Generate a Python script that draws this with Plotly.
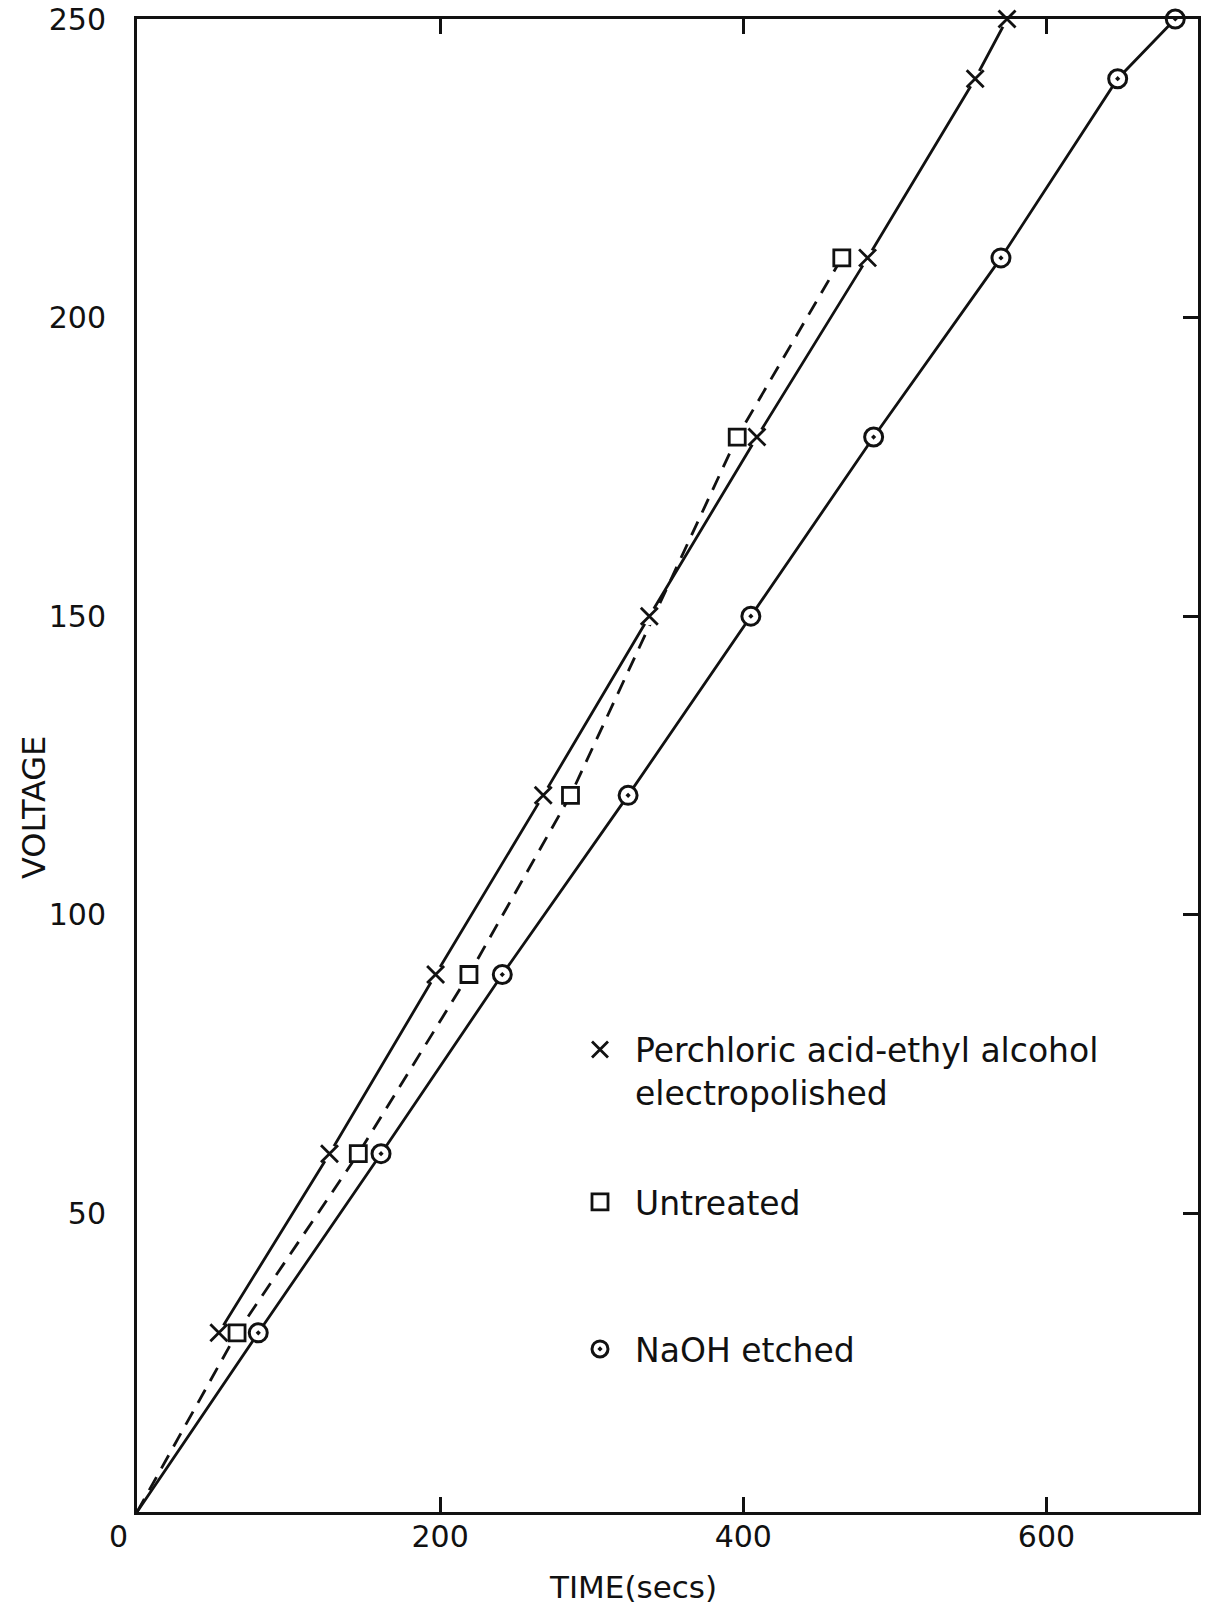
import plotly.graph_objects as go

# ---- data ----
perch_time = [54, 127, 197, 268, 338, 409, 482, 553, 574]
perch_volt = [30, 60, 90, 120, 150, 180, 210, 240, 250]

untr_time = [66, 146, 219, 286, 396, 465]
untr_volt = [30, 60, 90, 120, 180, 210]

naoh_time = [80, 161, 241, 324, 405, 486, 570, 647, 685]
naoh_volt = [30, 60, 90, 120, 150, 180, 210, 240, 250]

origin_time = [0]
origin_volt = [0]

x_ticks = [200, 400, 600]
y_ticks = [50, 100, 150, 200, 250]

labels = ["Perchloric acid-ethyl alcohol<br>electropolished", "Untreated", "NaOH etched"]

FONT = "DejaVu Sans"
FS_TICK = 30
FS_TEXT = 33
BLACK = "#111111"

fig = go.Figure()

# fitted lines
fig.add_trace(go.Scatter(x=perch_time, y=perch_volt, mode="lines",
                         line=dict(color=BLACK, width=2.8), showlegend=False, hoverinfo="skip"))
fig.add_trace(go.Scatter(x=origin_time + untr_time, y=origin_volt + untr_volt, mode="lines",
                         line=dict(color=BLACK, width=2.8, dash="15px,10px"), showlegend=False, hoverinfo="skip"))
fig.add_trace(go.Scatter(x=origin_time + naoh_time, y=origin_volt + naoh_volt, mode="lines",
                         line=dict(color=BLACK, width=2.8), showlegend=False, hoverinfo="skip"))

# white halo behind the crosses so the line breaks at each point
fig.add_trace(go.Scatter(x=perch_time, y=perch_volt, mode="markers",
                         marker=dict(symbol="circle", size=18, color="white"),
                         showlegend=False, hoverinfo="skip", cliponaxis=False))

# markers
fig.add_trace(go.Scatter(x=perch_time, y=perch_volt, mode="markers", name=labels[0],
                         marker=dict(symbol="x-thin", size=17, line=dict(color=BLACK, width=2.8)),
                         legend="legend", cliponaxis=False))
fig.add_trace(go.Scatter(x=untr_time, y=untr_volt, mode="markers", name=labels[1],
                         marker=dict(symbol="square", size=16, color="white",
                                     line=dict(color=BLACK, width=2.8)),
                         legend="legend2", cliponaxis=False))
fig.add_trace(go.Scatter(x=naoh_time, y=naoh_volt, mode="markers", name=labels[2],
                         marker=dict(symbol="circle-dot", size=18, color="white",
                                     line=dict(color=BLACK, width=3)),
                         legend="legend3", cliponaxis=False))

# right-side overlay axis for the inward ticks on the right edge
fig.add_trace(go.Scatter(x=[None], y=[None], yaxis="y2", showlegend=False, hoverinfo="skip"))

L, R, T, B = 137, 13, 19, 92
W, H = 1211, 1604
pw, ph = W - L - R, H - T - B

def px_to_paper_x(px):
    return (px - L) / pw

def px_to_paper_y(py):
    return (H - B - py) / ph

legend_common = dict(xanchor="left", yanchor="middle", bgcolor="rgba(0,0,0,0)",
                     font=dict(family=FONT, size=FS_TEXT, color=BLACK), valign="top",
                     itemwidth=60)

fig.update_layout(
    width=W, height=H,
    margin=dict(l=L, r=R, t=T, b=B, autoexpand=False),
    paper_bgcolor="white", plot_bgcolor="white",
    font=dict(family=FONT, size=FS_TEXT, color=BLACK),
    xaxis=dict(range=[0, 700], tickvals=x_ticks, ticktext=[str(v) for v in x_ticks],
               ticks="inside", ticklen=15, tickwidth=2.5, tickcolor=BLACK,
               showline=True, linewidth=3, linecolor=BLACK, mirror="ticks",
               showgrid=False, zeroline=False, ticklabelstandoff=-4, automargin=False,
               tickfont=dict(family=FONT, size=FS_TICK, color=BLACK)),
    yaxis=dict(range=[0, 250], tickvals=y_ticks, ticktext=[str(v) for v in y_ticks],
               ticks="", showline=True, linewidth=3, linecolor=BLACK, mirror=True,
               showgrid=False, zeroline=False, ticklabelstandoff=22, automargin=False,
               tickfont=dict(family=FONT, size=FS_TICK, color=BLACK)),
    yaxis2=dict(range=[0, 250], tickvals=y_ticks, overlaying="y", side="right",
                ticks="inside", ticklen=15, tickwidth=2.5, tickcolor=BLACK, automargin=False,
                showticklabels=False, showgrid=False, zeroline=False, showline=False),
    legend=dict(x=px_to_paper_x(565), y=px_to_paper_y(1071), **legend_common),
    legend2=dict(x=px_to_paper_x(565), y=px_to_paper_y(1202), **legend_common),
    legend3=dict(x=px_to_paper_x(565), y=px_to_paper_y(1349), **legend_common),
    annotations=[
        dict(text="0", x=0, xref="x", y=0, yref="paper", xshift=-19, yshift=-24,
             showarrow=False, xanchor="center", yanchor="middle",
             font=dict(family=FONT, size=FS_TICK, color=BLACK)),
        dict(text="TIME(secs)", x=px_to_paper_x(633), xref="paper", y=px_to_paper_y(1587), yref="paper",
             showarrow=False, xanchor="center", yanchor="middle",
             font=dict(family=FONT, size=31, color=BLACK)),
        dict(text="VOLTAGE", x=px_to_paper_x(34), xref="paper", y=px_to_paper_y(808), yref="paper",
             textangle=-90, showarrow=False, xanchor="center", yanchor="middle",
             font=dict(family=FONT, size=32, color=BLACK)),
    ],
)

fig.write_html("out.html")
